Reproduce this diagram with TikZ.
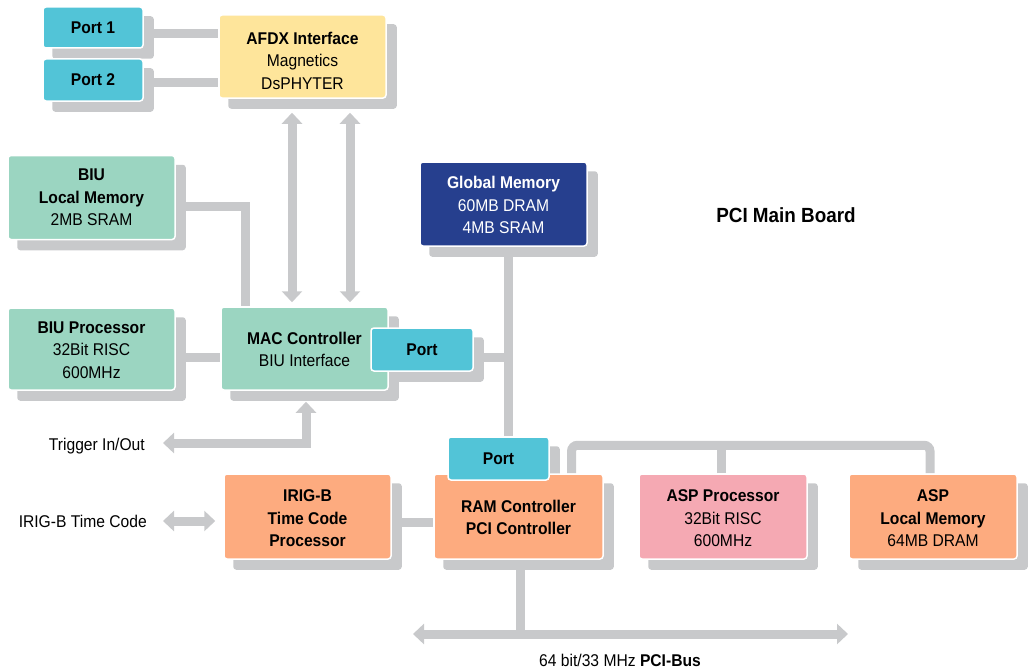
\documentclass[tikz,border=0pt]{standalone}
\usepackage{fontspec}
\setmainfont[FakeStretch=0.92]{Liberation Sans}
\usetikzlibrary{arrows.meta,calc}
\definecolor{portc}{RGB}{82,196,215}
\definecolor{afdxc}{RGB}{254,229,155}
\definecolor{greenc}{RGB}{155,213,193}
\definecolor{navyc}{RGB}{38,63,142}
\definecolor{orangec}{RGB}{253,171,127}
\definecolor{pinkc}{RGB}{245,169,179}
\definecolor{grayc}{RGB}{200,201,203}
\pgfdeclarelayer{connlayer}
\pgfdeclarelayer{shadowlayer}
\pgfsetlayers{connlayer,shadowlayer,main}
\tikzset{
  box/.style={draw=white, line width=1.5pt, rounded corners=3pt, inner sep=0pt},
  txt/.style={align=center, inner sep=0pt, font={\fontsize{17}{22.5}\selectfont}, text=black},
  portbox/.style={box, fill=portc, font={\fontsize{17}{22.5}\selectfont\bfseries}},
  conn/.style={draw=grayc, line width=9pt},
  dbl/.style={conn, >={Triangle[width=20pt,length=11pt]}, <->},
  lbl/.style={font={\fontsize{17}{22.5}\selectfont}, inner sep=0pt},
}
\begin{document}
\begin{tikzpicture}[x=1pt,y=-1pt]
\useasboundingbox (0,0) rectangle (1033,669);
% boxes
\node[box, fill=afdxc, minimum width=167pt, minimum height=83pt] (afdx) at (302.5,56.5) {};
\node[portbox, minimum width=100pt, minimum height=41pt] (p1) at (93,27.5) {Port 1};
\node[portbox, minimum width=100pt, minimum height=42pt] (p2) at (93,80) {Port 2};
\node[box, fill=greenc, minimum width=167pt, minimum height=84pt] (biulm) at (91.5,197.5) {};
\node[box, fill=greenc, minimum width=167pt, minimum height=82pt] (biup) at (91.5,349) {};
\node[box, fill=greenc, minimum width=167pt, minimum height=83pt] (mac) at (304.5,348.5) {};
\node[portbox, minimum width=102pt, minimum height=43pt] (macport) at (422,349.5) {Port};
\node[box, fill=navyc, minimum width=167pt, minimum height=84pt] (glob) at (503.5,204) {};
\node[box, fill=orangec, minimum width=167pt, minimum height=85pt] (irig) at (307.5,516.5) {};
\node[box, fill=orangec, minimum width=169pt, minimum height=85pt] (ram) at (518.5,516.5) {};
\node[portbox, minimum width=101pt, minimum height=43pt] (ramport) at (498.5,458.5) {Port};
\node[box, fill=pinkc, minimum width=168pt, minimum height=85pt] (aspp) at (723,516.5) {};
\node[box, fill=orangec, minimum width=168pt, minimum height=85pt] (asplm) at (933,516.5) {};
% box texts
\node[txt] (afdxT) at ([yshift=-4pt]afdx.center) {\textbf{AFDX Interface}\\Magnetics\\DsPHYTER};
\node[txt] (biulmT) at (biulm.center) {\textbf{BIU}\\\textbf{Local Memory}\\2MB SRAM};
\node[txt] (biupT) at ([yshift=-1pt]biup.center) {\textbf{BIU Processor}\\32Bit RISC\\600MHz};
\node[txt] (macT) at ([yshift=-1pt]mac.center) {\textbf{MAC Controller}\\BIU Interface};
\node[txt, text=white] (globT) at ([yshift=-1pt]glob.center) {\textbf{Global Memory}\\60MB DRAM\\4MB SRAM};
\node[txt] (irigT) at ([yshift=-2pt]irig.center) {\textbf{IRIG-B}\\\textbf{Time Code}\\\textbf{Processor}};
\node[txt] (ramT) at ([yshift=-1pt]ram.center) {\textbf{RAM Controller}\\\textbf{PCI Controller}};
\node[txt] (asppT) at ([yshift=-2pt]aspp.center) {\textbf{ASP Processor}\\32Bit RISC\\600MHz};
\node[txt] (asplmT) at ([yshift=-2pt]asplm.center) {\textbf{ASP}\\\textbf{Local Memory}\\64MB DRAM};
% labels
\node[font={\fontsize{20.5}{24}\selectfont\bfseries}, inner sep=0pt] (title) at (786,215) {PCI Main Board};
\node[lbl, anchor=east] (trig) at (145,446) {Trigger In/Out};
\node[lbl, anchor=east] (irigl) at (147,521) {IRIG-B Time Code};
\node[lbl] (bus) at (620,660) {64 bit/33 MHz \textbf{PCI-Bus}};
% coordinates
\coordinate (a1) at ([xshift=-10.5pt]afdx.south);
\coordinate (a2) at ([xshift=47.5pt]afdx.south);
\coordinate (b1) at ([yshift=-8.5pt]biulm.east);
\coordinate (b2) at ([xshift=-59.5pt]mac.north);
\coordinate (bp) at ([yshift=-8pt]biup.east);
\coordinate (mp) at ([yshift=-8pt]macport.east);
\coordinate (v1) at ([xshift=4.5pt]glob.south);
\coordinate (t1) at ([xshift=1.5pt]mac.south);
\coordinate (tr) at ([yshift=3pt]trig.east);
\coordinate (ir) at ([yshift=-5.5pt]irig.east);
\coordinate (r1) at ([xshift=53pt]ram.north);
\coordinate (top) at ([yshift=28pt]ram.north);
\coordinate (d1) at ([xshift=-1.5pt]aspp.north);
\coordinate (d2) at ([xshift=-3pt]asplm.north);
\coordinate (rb) at ([xshift=1.5pt]ram.south);
\coordinate (bl) at (413,634);
\coordinate (br) at (848,634);
\coordinate (q1) at ([yshift=-6pt]p1.east);
\coordinate (q2) at ([yshift=-2pt]p2.east);
% shadows
\begin{pgfonlayer}{shadowlayer}
\foreach \n in {afdx,p1,p2,biulm,biup,mac,macport,glob,irig,ram,ramport,aspp,asplm}{
  \fill[grayc, rounded corners=3pt] ([shift={(10pt,-10pt)}]\n.south west) rectangle ([shift={(10pt,-10pt)}]\n.north east);
}
\end{pgfonlayer}
% connectors
\begin{pgfonlayer}{connlayer}
\draw[conn] (q1) -- (q1 -| afdx.west);
\draw[conn] (q2) -- (q2 -| afdx.west);
\draw[dbl, shorten <=14pt, shorten >=4pt] (a1) -- (a1 |- mac.north);
\draw[dbl, shorten <=14pt, shorten >=4pt] (a2) -- (a2 |- mac.north);
\draw[conn] (b1) -| (b2);
\draw[conn] (bp) -- (bp -| mac.west);
\draw[conn] (mp) -- (mp -| v1);
\draw[conn] (v1) -- (v1 |- ramport.north);
\draw[dbl, shorten <=18pt, shorten >=11pt] (tr) -| (t1);
\draw[dbl, shorten <=16pt, shorten >=8pt] (irigl.east) -- (irigl.east -| irig.west);
\draw[conn] (ir) -- (ir -| ram.west);
\draw[conn, rounded corners=6pt] (r1) |- (d2 |- top) -- (d2);
\draw[conn] (d1) -- (d1 |- top);
\draw[conn] (rb) -- (rb |- bl);
\draw[dbl] (bl) -- (br);
\end{pgfonlayer}
\end{tikzpicture}
\end{document}
